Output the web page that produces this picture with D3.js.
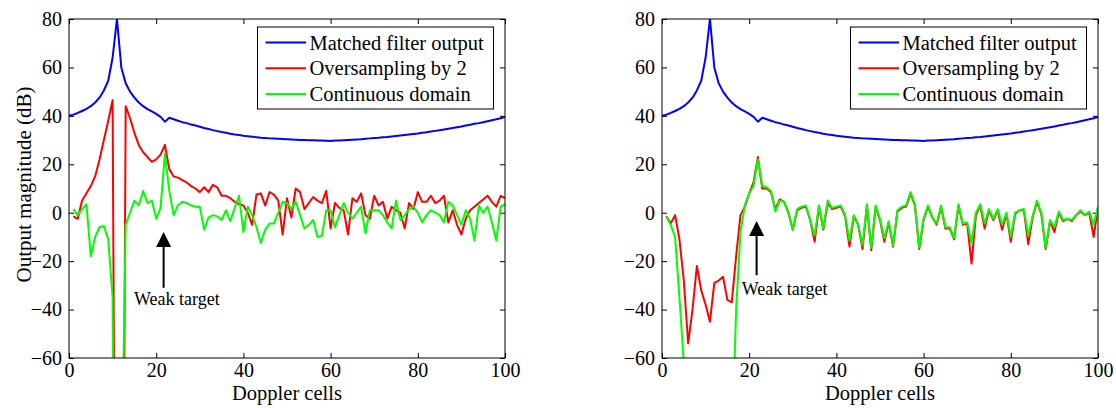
<!DOCTYPE html>
<html>
<head>
<meta charset="utf-8">
<script src="https://cdn.jsdelivr.net/npm/d3@7/dist/d3.min.js"></script>
<style>
  html, body { margin: 0; padding: 0; background: #fff; }
  svg { display: block; }
  text { font-family: "Liberation Serif", "Times New Roman", serif; fill: #000; }
</style>
</head>
<body>
<svg id="chart" width="1116" height="408"></svg>
<script>
// ---------------- data ----------------
const xTicks = [0, 20, 40, 60, 80, 100];
const yTicks = [-60, -40, -20, 0, 20, 40, 60, 80];
const seriesNames = ["Matched filter output", "Oversampling by 2", "Continuous domain"];
const seriesColors = ["#0000ff", "#ff0000", "#00ff00"];
const xLabel = "Doppler cells";
const yLabel = "Output magnitude (dB)";
const annotationText = "Weak target";

// Doppler cells for the matched filter output (0..100)
const cellsFull = d3.range(0, 101);
// Doppler cells for the other two curves (1..100)
const cells = d3.range(1, 101);

// Matched filter output (same in both panels), x = 0..100
const matchedFilter = [
  40.0,40.5,41.2,42.0,42.9,44.0,45.5,47.5,50.5,54.5,
  64.0,80.0,60.0,53.5,50.0,47.5,45.5,44.0,42.8,41.8,
  40.8,39.6,37.6,39.2,38.6,38.0,37.4,37.0,36.4,36.0,
  35.5,35.0,34.6,34.1,33.7,33.3,33.0,32.6,32.3,32.1,
  31.8,31.6,31.4,31.2,31.0,30.9,30.7,30.6,30.5,30.4,
  30.3,30.2,30.1,30.0,30.0,29.9,29.9,29.8,29.8,29.7,
  29.6,29.8,29.8,29.9,30.0,30.1,30.2,30.3,30.5,30.7,
  30.9,31.0,31.2,31.3,31.5,31.7,31.9,32.1,32.3,32.5,
  32.7,33.0,33.2,33.5,33.8,34.1,34.4,34.7,35.0,35.3,
  35.6,36.0,36.3,36.7,37.0,37.4,37.8,38.2,38.6,39.0,
  39.5
];

// Left panel, x = 1..100 (very low values fall below the axis)
const leftOversampling = [
  -1.5,-2.5,5,8,11,15,22,30,38,46.5,
  -300,-300,44,39,33,28,25,23,21,22,
  24,28,18,15,14.5,13.5,12.5,11,10,8.5,
  10.5,8.5,11.5,10.5,7,7,6,4.5,3.5,3,
  0,-5,7.5,8,3,8.5,7.5,5,-9,6,
  -2,10,8.5,1.5,4,6.5,5,4,9,-6.5,
  4,2,1,-9,6,4.5,8,-1,-2.5,7,
  3,4.5,-2.5,2.5,1,0,-6.5,4,1.5,8.5,
  4.5,4.5,7,4,5,7,-4,1,-5,-9,
  -2.5,1,2.5,4,5.5,7,4.5,2.5,7,6
];
const leftContinuous = [
  1.5,-1,1.5,3.5,-18,-10,-6,-5.5,-11,-35,
  -300,-120,-5,0,5,3,9,4,5,-2.5,
  2,24.5,9,-1,3,4.5,4,3,2.5,2.5,
  -7,-2,-1,-1.5,-3,1,-3.5,2,7,-8,
  2.5,-1,-6,-12.5,-7,-4.5,-4.5,0,4.5,4,
  1.7,4.5,-1,-6.5,-5,-3,-10,-9.5,1,1,
  -6,-1,4,0,-2.5,0,2.5,-8.5,1,1,
  1,-1,-4,-6.5,5,-3,-1,1.5,2.5,0,
  -4,-1,1,0,-1,-4,4.5,3,-1,-5,
  1,-2.5,-11.5,3,0,2.5,-4,-11.5,2.5,3.5
];

// Right panel, x = 1..100
const rightOversampling = [
  -1.5,-4.5,-1,-11,-28,-54,-40,-22,-32,-38,
  -45,-29,-28,-26.5,-36,-37,-18,-1,2.5,8,
  12.5,23,10,10,8.5,1.5,5.5,4.5,0,-7,
  1,2,2.5,-3,-12,2.5,-7,4,1.5,2,
  2.5,-1.5,-14,-1.5,-5,-15,3,-15.5,2.5,-3,
  -12,-4,-14,0.5,2,2.5,8,3,-15,-3,
  2.5,-2,-5,2.5,-6.5,-6.5,-11,3,-5,-4.5,
  -21,-1,3,-6.5,1,-3,1,-7,-0.5,-12,
  -0.5,1,1,-13,-2,4.5,-0.5,-15,-3.5,-8,
  0,-3.5,-2.5,-3.5,-1,0.5,-1,0,-10,2
];
const rightContinuous = [
  -1.5,-5,-10,-35,-62,-300,-300,-300,-300,-300,
  -300,-300,-300,-300,-300,-100,-40,-8,3,8,
  11,22,11,10.5,9,0.5,5,4.5,0,-7,
  1.5,2.5,3,-3,-9.5,3,-6.5,5,2,2.5,
  3,-1,-11.5,-1,-5,-13.5,3.5,-14.5,3,-2.5,
  -10.5,-3.5,-13.5,1,2.5,3,8.5,3.5,-14.5,-2.5,
  3,-2,-4.5,3,-6,-6,-10.5,3.5,-4.5,-4,
  -12.5,0,3.5,-4.5,1.5,-2.5,1.5,-5,0,-10,
  0,1,1.5,-9.5,-1.5,5,0,-14.5,-3,-6,
  0.5,-3,-2.5,-3,-1,1,-1,0.5,-5,2.5
];

// Weak-target annotation (data coordinates): arrow x, tip y, tail y, label x, label y
const leftArrow = [21.7, -8, -31, 14.9, -38.2];
const rightArrow = [21.7, -3.4, -25.8, 18.3, -34.1];

// ---------------- drawing ----------------
const svg = d3.select("#chart");
const plotTop = 19, plotBottom = 358;

const panels = [
  { x0: 69, x1: 505, red: leftOversampling, green: leftContinuous, arrow: leftArrow, yLab: true, id: "L" },
  { x0: 662, x1: 1098, red: rightOversampling, green: rightContinuous, arrow: rightArrow, yLab: false, id: "R" }
];

const defs = svg.append("defs");

panels.forEach(p => {
  const x = d3.scaleLinear().domain([0, 100]).range([p.x0, p.x1]);
  const y = d3.scaleLinear().domain([-60, 80]).range([plotBottom, plotTop]);
  const g = svg.append("g");

  defs.append("clipPath").attr("id", "clip" + p.id)
    .append("rect").attr("x", p.x0).attr("y", plotTop)
    .attr("width", p.x1 - p.x0).attr("height", plotBottom - plotTop);

  // axes (inward ticks on all sides)
  const ax = g.append("g").attr("transform", `translate(0,${plotBottom})`)
    .call(d3.axisBottom(x).tickValues(xTicks).tickSizeInner(-5).tickSizeOuter(0).tickPadding(5));
  const axT = g.append("g").attr("transform", `translate(0,${plotTop})`)
    .call(d3.axisTop(x).tickValues(xTicks).tickSizeInner(-5).tickSizeOuter(0).tickFormat(""));
  const ay = g.append("g").attr("transform", `translate(${p.x0},0)`)
    .call(d3.axisLeft(y).tickValues(yTicks).tickSizeInner(-5).tickSizeOuter(0).tickPadding(7));
  const ayR = g.append("g").attr("transform", `translate(${p.x1},0)`)
    .call(d3.axisRight(y).tickValues(yTicks).tickSizeInner(-5).tickSizeOuter(0).tickFormat(""));
  [ax, axT, ay, ayR].forEach(a => {
    a.select(".domain").remove();
    a.selectAll("line").attr("stroke", "#000").attr("stroke-width", 1);
    a.selectAll("text").attr("font-family", "Liberation Serif, Times New Roman, serif")
      .attr("font-size", 20).attr("fill", "#000");
  });

  // lines
  const plot = g.append("g").attr("clip-path", `url(#clip${p.id})`);
  const line = d3.line().x(d => x(d[0])).y(d => y(d[1]));
  const series = [
    cellsFull.map((c, i) => [c, matchedFilter[i]]),
    cells.map((c, i) => [c, p.red[i]]),
    cells.map((c, i) => [c, p.green[i]])
  ];
  series.forEach((s, i) => {
    plot.append("path").datum(s).attr("d", line)
      .attr("fill", "none").attr("stroke", seriesColors[i])
      .attr("stroke-width", 2).attr("stroke-linejoin", "round");
  });

  // box
  g.append("rect").attr("x", p.x0).attr("y", plotTop)
    .attr("width", p.x1 - p.x0).attr("height", plotBottom - plotTop)
    .attr("fill", "none").attr("stroke", "#000").attr("stroke-width", 1);

  // annotation arrow
  const [axd, tipY, tailY, lx, ly] = p.arrow;
  const ahx = x(axd), tipPx = y(tipY), tailPx = y(tailY);
  g.append("line").attr("x1", ahx).attr("x2", ahx)
    .attr("y1", tipPx + 10).attr("y2", tailPx)
    .attr("stroke", "#000").attr("stroke-width", 2);
  g.append("path")
    .attr("d", `M${ahx},${tipPx} L${ahx - 7.5},${tipPx + 15} L${ahx + 7.5},${tipPx + 15} Z`)
    .attr("fill", "#000");
  g.append("text").attr("x", x(lx)).attr("y", y(ly))
    .attr("font-size", 18).text(annotationText);

  // legend
  const lgx = p.x0 + 188.5, lgy = 27, lgw = 236, lgh = 82;
  g.append("rect").attr("x", lgx).attr("y", lgy).attr("width", lgw).attr("height", lgh)
    .attr("fill", "#fff").attr("stroke", "#000").attr("stroke-width", 1);
  seriesNames.forEach((name, i) => {
    const ry = lgy + 15.5 + i * 25.7;
    g.append("line").attr("x1", lgx + 8).attr("x2", lgx + 48.5)
      .attr("y1", ry).attr("y2", ry)
      .attr("stroke", seriesColors[i]).attr("stroke-width", 2);
    g.append("text").attr("x", lgx + 52).attr("y", ry + 7)
      .attr("font-size", 20.5).text(name);
  });

  // axis labels
  g.append("text").attr("x", (p.x0 + p.x1) / 2).attr("y", 400)
    .attr("text-anchor", "middle").attr("font-size", 20.5).text(xLabel);
  if (p.yLab) {
    g.append("text").attr("transform", `translate(31,${(plotTop + plotBottom) / 2 - 4}) rotate(-90)`)
      .attr("text-anchor", "middle").attr("font-size", 21).text(yLabel);
  }
});
</script>
</body>
</html>
